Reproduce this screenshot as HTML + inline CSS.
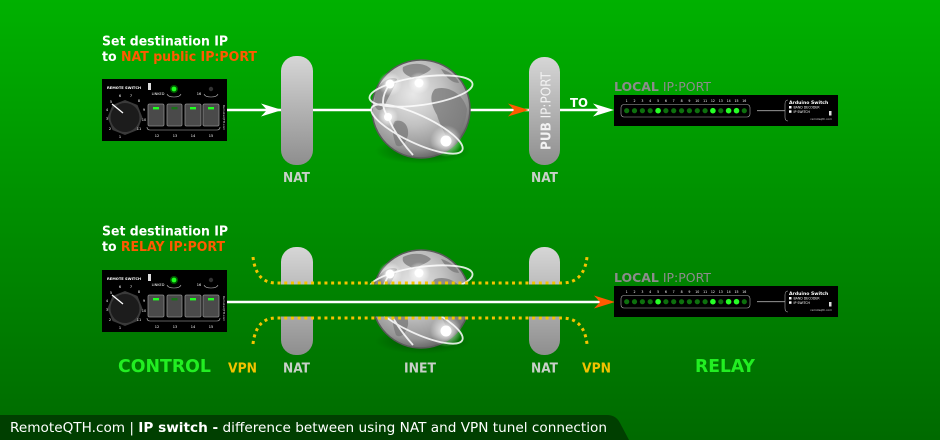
<!DOCTYPE html>
<html><head><meta charset="utf-8"><style>
html,body{margin:0;padding:0;background:#009000;}
svg{display:block;}
</style></head><body>
<svg width="940" height="440" viewBox="0 0 940 440" xmlns="http://www.w3.org/2000/svg" font-family="'DejaVu Sans','Liberation Sans',sans-serif">
<defs>
  <linearGradient id="bg" gradientUnits="userSpaceOnUse" x1="0" y1="0" x2="0" y2="440">
    <stop offset="0" stop-color="#00b100"/>
    <stop offset="1" stop-color="#006a00"/>
  </linearGradient>
  <linearGradient id="pill" x1="0" y1="0" x2="0" y2="1">
    <stop offset="0" stop-color="#d6d6d6"/>
    <stop offset="1" stop-color="#8e8e8e"/>
  </linearGradient>
  <radialGradient id="gs" cx="0.42" cy="0.35" r="0.7">
    <stop offset="0" stop-color="#e8e8e8"/>
    <stop offset="0.45" stop-color="#c2c2c2"/>
    <stop offset="0.8" stop-color="#959595"/>
    <stop offset="1" stop-color="#555"/>
  </radialGradient>
  <radialGradient id="sh" cx="0.5" cy="0.5" r="0.5">
    <stop offset="0" stop-color="#003000" stop-opacity="0.6"/>
    <stop offset="1" stop-color="#003000" stop-opacity="0"/>
  </radialGradient>
  <radialGradient id="glow" cx="0.5" cy="0.5" r="0.5">
    <stop offset="0" stop-color="#fff" stop-opacity="1"/>
    <stop offset="0.4" stop-color="#fff" stop-opacity="0.6"/>
    <stop offset="1" stop-color="#fff" stop-opacity="0"/>
  </radialGradient>
  <clipPath id="gc"><circle cx="0" cy="0" r="49"/></clipPath>

  <g id="globe">
    <ellipse cx="2" cy="42" rx="48" ry="13" fill="url(#sh)"/>
    <circle cx="0" cy="0" r="49" fill="url(#gs)" stroke="#5a5a5a" stroke-width="1.5"/>
    <g clip-path="url(#gc)" fill="#787878" opacity="0.75">
      <path d="M-18,-42 C-8,-47 4,-46 10,-40 C6,-35 -2,-34 -6,-30 C-12,-33 -20,-35 -18,-42 Z"/>
      <path d="M14,-20 C26,-24 42,-16 46,0 C45,16 38,28 28,34 C24,24 18,14 16,6 C10,-4 8,-14 14,-20 Z"/>
      <path d="M-46,-16 C-42,-26 -32,-34 -24,-30 C-26,-22 -32,-14 -36,-4 C-40,4 -45,2 -47,-6 Z"/>
      <path d="M-26,12 C-18,10 -12,16 -13,26 C-15,34 -20,40 -25,36 C-28,28 -30,18 -26,12 Z"/>
      <path d="M20,-40 C28,-38 36,-32 38,-26 C32,-26 26,-30 20,-40 Z"/>
    </g>
    <g fill="none" stroke="#fff" stroke-width="1.8" opacity="0.85">
      <ellipse cx="0" cy="-18" rx="52" ry="14" transform="rotate(-8 0 -18)"/>
      <ellipse cx="-4" cy="20" rx="50" ry="14" transform="rotate(25 -4 20)"/>
      <path d="M-31,-25 Q-44,-8 -33,8 Q-26,26 -8,46"/>
    </g>
    <circle cx="-31" cy="-25" r="12" fill="url(#glow)"/>
    <circle cx="-2" cy="-26" r="11" fill="url(#glow)"/>
    <circle cx="-33" cy="8" r="10" fill="url(#glow)"/>
    <circle cx="25" cy="32" r="16" fill="url(#glow)"/>
    <circle cx="-31" cy="-25" r="4.5" fill="#fff"/>
    <circle cx="-2" cy="-26" r="4.5" fill="#fff"/>
    <circle cx="-33" cy="8" r="4" fill="#fff"/>
    <circle cx="25" cy="32" r="5.5" fill="#fff"/>
  </g>

  <g id="ctrl">
    <rect x="0" y="0" width="125" height="62" fill="#000"/>
    <text x="5" y="10" font-size="3.6" font-weight="bold" fill="#fff">REMOTE SWITCH</text>
    <rect x="46" y="4" width="3" height="7" fill="#ddd"/>
    <polygon points="23,21 35.5,26 40.5,38.5 35.5,51 23,56 10.5,51 5.5,38.5 10.5,26" fill="#3a3a3a"/>
    <circle cx="23" cy="38.5" r="14.5" fill="#1c1c1c"/>
    <line x1="10" y1="25" x2="21" y2="34" stroke="#fff" stroke-width="1.3"/>
    <g font-size="3.5" fill="#fff" text-anchor="middle">
      <text x="18" y="59">1</text><text x="8" y="51">2</text><text x="5" y="41">3</text>
      <text x="5" y="32">4</text><text x="9" y="24">5</text><text x="18" y="18">6</text>
      <text x="29" y="18">7</text><text x="37" y="23">8</text><text x="42" y="32">9</text>
      <text x="42" y="42">10</text><text x="37" y="51">11</text>
      <text x="56" y="16">LINKED</text><text x="97" y="16">16</text>
      <text x="55" y="58">12</text><text x="73" y="58">13</text>
      <text x="91" y="58">14</text><text x="109" y="58">15</text>
    </g>
    <circle cx="72" cy="10" r="4" fill="#0f0" opacity="0.35"/>
    <circle cx="72" cy="10" r="2.4" fill="#1eff1e"/>
    <circle cx="109" cy="10" r="2.2" fill="#333"/>
    <path d="M65,15 Q66,18 72,18 Q78,18 79,15 M102,15 Q103,18 109,18 Q115,18 116,15" fill="none" stroke="#bbb" stroke-width="0.6"/>
    <g fill="#4a4a4a" stroke="#8a8a8a" stroke-width="0.8">
      <rect x="46" y="25" width="16" height="22" rx="1.5"/>
      <rect x="65" y="25" width="15" height="22" rx="1.5"/>
      <rect x="83" y="25" width="16" height="22" rx="1.5"/>
      <rect x="101" y="25" width="16" height="22" rx="1.5"/>
    </g>
    <rect x="51" y="28" width="6" height="2.4" fill="#22ff22"/>
    <rect x="69.5" y="28" width="6" height="2.4" fill="#187018"/>
    <rect x="88" y="28" width="6" height="2.4" fill="#22ff22"/>
    <rect x="106" y="28" width="6" height="2.4" fill="#22ff22"/>
    <path d="M45,48 Q45,51 48,51 L115,51 Q118,51 118,48" fill="none" stroke="#bbb" stroke-width="0.6"/>
    <text transform="translate(121,26) rotate(90)" font-size="3" fill="#ccc">RemoteQTH.com</text>
  </g>

  <g id="relay">
    <rect x="0" y="0" width="224" height="31" fill="#000"/>
    <g font-size="3.2" fill="#fff" text-anchor="middle">
      <text x="12.7" y="7">1</text><text x="20.5" y="7">2</text><text x="28.4" y="7">3</text><text x="36.2" y="7">4</text>
      <text x="44.1" y="7">5</text><text x="51.9" y="7">6</text><text x="59.7" y="7">7</text><text x="67.6" y="7">8</text>
      <text x="75.4" y="7">9</text><text x="83.3" y="7">10</text><text x="91.1" y="7">11</text><text x="98.9" y="7">12</text>
      <text x="106.8" y="7">13</text><text x="114.6" y="7">14</text><text x="122.5" y="7">15</text><text x="130.3" y="7">16</text>
    </g>
    <rect x="7" y="9.5" width="129" height="12.5" rx="3" fill="none" stroke="#aaa" stroke-width="0.6"/>
    <g fill="#0d700d">
      <circle cx="12.7" cy="15.7" r="2.6"/><circle cx="20.5" cy="15.7" r="2.6"/><circle cx="28.4" cy="15.7" r="2.6"/><circle cx="36.2" cy="15.7" r="2.6"/>
      <circle cx="51.9" cy="15.7" r="2.6"/><circle cx="59.7" cy="15.7" r="2.6"/><circle cx="67.6" cy="15.7" r="2.6"/>
      <circle cx="75.4" cy="15.7" r="2.6"/><circle cx="83.3" cy="15.7" r="2.6"/><circle cx="91.1" cy="15.7" r="2.6"/>
      <circle cx="106.8" cy="15.7" r="2.6"/><circle cx="130.3" cy="15.7" r="2.6"/>
    </g>
    <g fill="#26ff26">
      <circle cx="44.1" cy="15.7" r="2.8"/><circle cx="98.9" cy="15.7" r="2.8"/>
      <circle cx="114.6" cy="15.7" r="2.8"/><circle cx="122.5" cy="15.7" r="2.8"/>
    </g>
    <line x1="143" y1="15.7" x2="171" y2="15.7" stroke="#aaa" stroke-width="0.8"/>
    <path d="M174,5 Q171,5 171,9 L171,22 Q171,26 174,26" fill="none" stroke="#aaa" stroke-width="0.6"/>
    <text x="175" y="9" font-size="4.6" font-weight="bold" fill="#fff">Arduino Switch</text>
    <rect x="175" y="11" width="2.5" height="2.5" fill="#fff"/>
    <rect x="175" y="15.3" width="2.5" height="2.5" fill="#fff"/>
    <text x="179.5" y="13.5" font-size="3.2" fill="#fff">BAND DECODER</text>
    <text x="179.5" y="17.8" font-size="3.2" fill="#fff">IP SWITCH</text>
    <rect x="215" y="16" width="2.5" height="4.5" fill="#ddd"/>
    <text x="218" y="25" font-size="2.8" fill="#ccc" text-anchor="end">remoteqth.com</text>
  </g>

  <path id="arr" d="M0,0 L-21,-6.5 L-15,0 L-21,6.5 Z"/>
</defs>

<!-- background -->
<rect x="0" y="0" width="940" height="440" fill="url(#bg)"/>

<!-- ============ TOP ROW ============ -->
<text x="102" y="45.5" font-size="13.5" font-weight="bold" fill="#fff" textLength="126" lengthAdjust="spacingAndGlyphs">Set destination IP</text>
<text x="102" y="61" font-size="13.5" font-weight="bold" fill="#fff" textLength="155" lengthAdjust="spacingAndGlyphs">to <tspan fill="#ff5a00">NAT public IP:PORT</tspan></text>

<line x1="227" y1="110" x2="606" y2="110" stroke="#fff" stroke-width="2.6"/>
<use href="#ctrl" transform="translate(102,79)"/>
<use href="#arr" transform="translate(282,110)" fill="#fff"/>

<rect x="281" y="56" width="32" height="109" rx="15" fill="url(#pill)"/>
<text x="283" y="182" font-size="13" font-weight="bold" fill="#c8d0c8" textLength="27" lengthAdjust="spacingAndGlyphs">NAT</text>

<use href="#globe" transform="translate(421,109)"/>
<use href="#arr" transform="translate(529,110)" fill="#ff5a00"/>

<rect x="529" y="57" width="31" height="108" rx="15" fill="url(#pill)"/>
<text transform="translate(550.5,111) rotate(-90)" text-anchor="middle" font-size="13.5" fill="#f2f2f2" textLength="78" lengthAdjust="spacingAndGlyphs"><tspan font-weight="bold">PUB</tspan> IP:PORT</text>
<text x="531" y="182" font-size="13" font-weight="bold" fill="#c8d0c8" textLength="27" lengthAdjust="spacingAndGlyphs">NAT</text>

<text x="570" y="107" font-size="12" font-weight="bold" fill="#fff" textLength="18" lengthAdjust="spacingAndGlyphs">TO</text>
<use href="#arr" transform="translate(614,110)" fill="#fff"/>

<text x="614" y="91" font-size="12.5" fill="#8c8c8c" textLength="97" lengthAdjust="spacingAndGlyphs"><tspan font-weight="bold">LOCAL</tspan> IP:PORT</text>
<use href="#relay" transform="translate(614,95)"/>

<!-- ============ BOTTOM ROW ============ -->
<text x="102" y="235.5" font-size="13.5" font-weight="bold" fill="#fff" textLength="126" lengthAdjust="spacingAndGlyphs">Set destination IP</text>
<text x="102" y="251" font-size="13.5" font-weight="bold" fill="#fff" textLength="123" lengthAdjust="spacingAndGlyphs">to <tspan fill="#ff5a00">RELAY IP:PORT</tspan></text>

<rect x="281" y="247" width="32" height="108" rx="15" fill="url(#pill)"/>
<rect x="529" y="247" width="31" height="108" rx="15" fill="url(#pill)"/>
<use href="#globe" transform="translate(421,299)"/>

<!-- tunnel band -->
<rect x="262" y="284.5" width="316" height="32" fill="url(#bg)"/>
<g fill="none" stroke="#f5c400" stroke-width="3" stroke-dasharray="3 3.7">
  <path d="M253,257 Q256,283 276,283 L562,283 Q584,283 587,257"/>
  <path d="M253,344 Q256,318 276,318 L562,318 Q584,318 587,344"/>
</g>

<line x1="227" y1="302" x2="600" y2="302" stroke="#fff" stroke-width="2.6"/>
<use href="#ctrl" transform="translate(102,270)"/>
<use href="#arr" transform="translate(615,302)" fill="#ff5a00"/>

<text x="614" y="282" font-size="12.5" fill="#8c8c8c" textLength="97" lengthAdjust="spacingAndGlyphs"><tspan font-weight="bold">LOCAL</tspan> IP:PORT</text>
<use href="#relay" transform="translate(614,286)"/>

<!-- bottom labels -->
<text x="118" y="372" font-size="18" font-weight="bold" fill="#22ee22" textLength="93" lengthAdjust="spacingAndGlyphs">CONTROL</text>
<text x="228" y="372.5" font-size="13" font-weight="bold" fill="#f2c200" textLength="29" lengthAdjust="spacingAndGlyphs">VPN</text>
<text x="283" y="372.5" font-size="13" font-weight="bold" fill="#c8d0c8" textLength="27" lengthAdjust="spacingAndGlyphs">NAT</text>
<text x="404" y="372.5" font-size="13" font-weight="bold" fill="#c8d0c8" textLength="32" lengthAdjust="spacingAndGlyphs">INET</text>
<text x="531" y="372.5" font-size="13" font-weight="bold" fill="#c8d0c8" textLength="27" lengthAdjust="spacingAndGlyphs">NAT</text>
<text x="582" y="372.5" font-size="13" font-weight="bold" fill="#f2c200" textLength="29" lengthAdjust="spacingAndGlyphs">VPN</text>
<text x="695" y="372" font-size="18" font-weight="bold" fill="#22ee22" textLength="60" lengthAdjust="spacingAndGlyphs">RELAY</text>

<!-- footer -->
<path d="M0,415 L607,415 Q616,415 620,423 L629,440 L0,440 Z" fill="#003f00"/>
<text x="10" y="432" font-size="13" fill="#fff" textLength="597" lengthAdjust="spacingAndGlyphs">RemoteQTH.com | <tspan font-weight="bold">IP switch -</tspan> difference between using NAT and VPN tunel connection</text>
</svg>
</body></html>
